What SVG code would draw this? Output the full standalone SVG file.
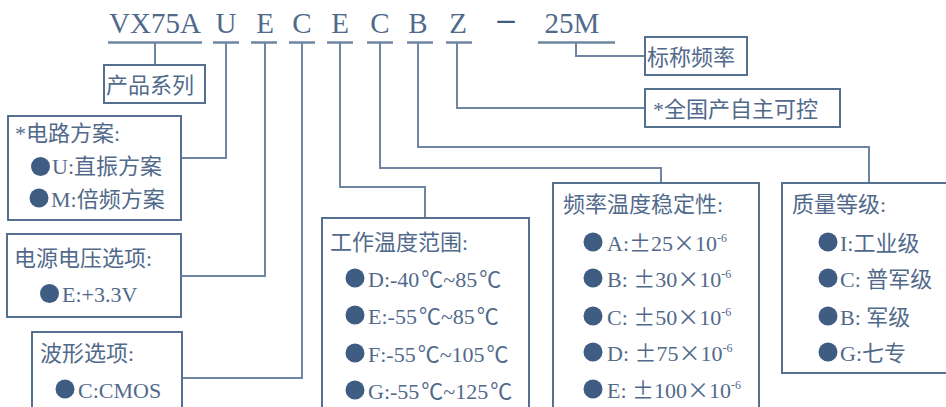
<svg xmlns="http://www.w3.org/2000/svg" width="946" height="407" viewBox="0 0 946 407">
<style>
.t{font-family:"Liberation Serif","Noto Sans CJK SC",serif;font-size:22px;fill:#516a8b}
.big{font-size:29px}
.cj{font-family:"Noto Sans CJK SC",sans-serif}
.sup{font-size:12px}
.box{fill:#fff;stroke:#56708f;stroke-width:2}
.ln{fill:none;stroke:#6f86a3;stroke-width:2}
.ul{fill:none;stroke:#6f86a3;stroke-width:2.5}
.dot{fill:#3f5c83}
</style>
<rect width="946" height="407" fill="#fff"/>
<g id="code">
<text class="t big" x="155" y="33" text-anchor="middle">VX75A</text>
<text class="t big" x="226" y="33" text-anchor="middle">U</text>
<text class="t big" x="265" y="33" text-anchor="middle">E</text>
<text class="t big" x="302" y="33" text-anchor="middle">C</text>
<text class="t big" x="340" y="33" text-anchor="middle">E</text>
<text class="t big" x="380" y="33" text-anchor="middle">C</text>
<text class="t big" x="418" y="33" text-anchor="middle">B</text>
<text class="t big" x="458" y="33" text-anchor="middle">Z</text>
<text class="t" x="506" y="30" text-anchor="middle" font-weight="bold" font-size="34" style="font-size:34px;fill:#3f5c83">–</text>
<text class="t big" x="572" y="33" text-anchor="middle">25M</text>
<path class="ul" d="M108 42.5H202M213 42.5H239M251 42.5H277M289 42.5H315M327 42.5H353M367 42.5H393M407 42.5H433M446 42.5H472M538 42.5H615"/>
</g>
<g id="connectors">
<path class="ln" d="M155 42V65"/>
<path class="ln" d="M226 42V158H181"/>
<path class="ln" d="M265 42V276H181"/>
<path class="ln" d="M302 42V378H182"/>
<path class="ln" d="M340 42V187H425V218"/>
<path class="ln" d="M380 42V168H661V183"/>
<path class="ln" d="M418 42V147H869V183"/>
<path class="ln" d="M457 42V108H645"/>
<path class="ln" d="M576 42V56H645"/>
</g>
<g id="series">
<rect class="box" x="104" y="65" width="101" height="38"/>
<text class="t" x="106" y="93">产品系列</text>
</g>
<g id="freq">
<rect class="box" x="645" y="37" width="102" height="38"/>
<text class="t" x="647" y="65">标称频率</text>
</g>
<g id="domestic">
<rect class="box" x="645" y="89" width="195" height="38"/>
<text class="t" x="653" y="117">*全国产自主可控</text>
</g>
<g id="circuit">
<rect class="box" x="8" y="116" width="173" height="104"/>
<text class="t" x="15" y="141">*电路方案:</text>
<circle class="dot" cx="40.5" cy="166.5" r="9.5"/>
<text class="t" x="52" y="174">U:直振方案</text>
<circle class="dot" cx="39" cy="198" r="9.5"/>
<text class="t" x="51" y="207">M:倍频方案</text>
</g>
<g id="voltage">
<rect class="box" x="7" y="234" width="174" height="83"/>
<text class="t" x="14" y="266">电源电压选项:</text>
<circle class="dot" cx="49.5" cy="293.5" r="9.5"/>
<text class="t" x="62" y="302">E:+3.3V</text>
</g>
<g id="wave">
<rect class="box" x="32" y="332" width="150" height="100"/>
<text class="t" x="40" y="361">波形选项:</text>
<circle class="dot" cx="65" cy="389" r="9.5"/>
<text class="t" x="78" y="398">C:CMOS</text>
</g>
<g id="temp">
<rect class="box" x="322" y="218" width="207" height="210"/>
<text class="t" x="330" y="250">工作温度范围:</text>
<circle class="dot" cx="355" cy="278" r="9.5"/>
<text class="t" x="368" y="287">D:-40<tspan class="cj" dx="2">℃</tspan>~85<tspan class="cj" dx="2">℃</tspan></text>
<circle class="dot" cx="355" cy="315" r="9.5"/>
<text class="t" x="368" y="324">E:-55<tspan class="cj" dx="2">℃</tspan>~85<tspan class="cj" dx="2">℃</tspan></text>
<circle class="dot" cx="355" cy="353" r="9.5"/>
<text class="t" x="368" y="362">F:-55<tspan class="cj" dx="2">℃</tspan>~105<tspan class="cj" dx="2">℃</tspan></text>
<circle class="dot" cx="355" cy="390" r="9.5"/>
<text class="t" x="368" y="399">G:-55<tspan class="cj" dx="2">℃</tspan>~125<tspan class="cj" dx="2">℃</tspan></text>
</g>
<g id="stability">
<rect class="box" x="553" y="183" width="206" height="245"/>
<text class="t" x="563" y="212">频率温度稳定性:</text>
<circle class="dot" cx="593" cy="242" r="9.5"/>
<text class="t" x="607" y="251">A:<tspan class="cj">±</tspan>25<tspan class="cj">×</tspan>10<tspan class="sup" dy="-9">-6</tspan></text>
<circle class="dot" cx="593" cy="278" r="9.5"/>
<text class="t" x="607" y="287">B: <tspan class="cj">±</tspan>30<tspan class="cj">×</tspan>10<tspan class="sup" dy="-9">-6</tspan></text>
<circle class="dot" cx="593" cy="316" r="9.5"/>
<text class="t" x="607" y="325">C: <tspan class="cj">±</tspan>50<tspan class="cj">×</tspan>10<tspan class="sup" dy="-9">-6</tspan></text>
<circle class="dot" cx="593" cy="352" r="9.5"/>
<text class="t" x="607" y="361">D: <tspan class="cj">±</tspan>75<tspan class="cj">×</tspan>10<tspan class="sup" dy="-9">-6</tspan></text>
<circle class="dot" cx="593" cy="389" r="9.5"/>
<text class="t" x="607" y="398">E: <tspan class="cj">±</tspan>100<tspan class="cj">×</tspan>10<tspan class="sup" dy="-9">-6</tspan></text>
</g>
<g id="grade">
<rect class="box" x="782" y="183" width="170" height="190"/>
<text class="t" x="792" y="212">质量等级:</text>
<circle class="dot" cx="828" cy="242" r="9.5"/>
<text class="t" x="840" y="251">I:工业级</text>
<circle class="dot" cx="828" cy="278" r="9.5"/>
<text class="t" x="840" y="287">C: 普军级</text>
<circle class="dot" cx="828" cy="316" r="9.5"/>
<text class="t" x="840" y="325">B: 军级</text>
<circle class="dot" cx="828" cy="352" r="9.5"/>
<text class="t" x="840" y="361">G:七专</text>
</g>
</svg>
